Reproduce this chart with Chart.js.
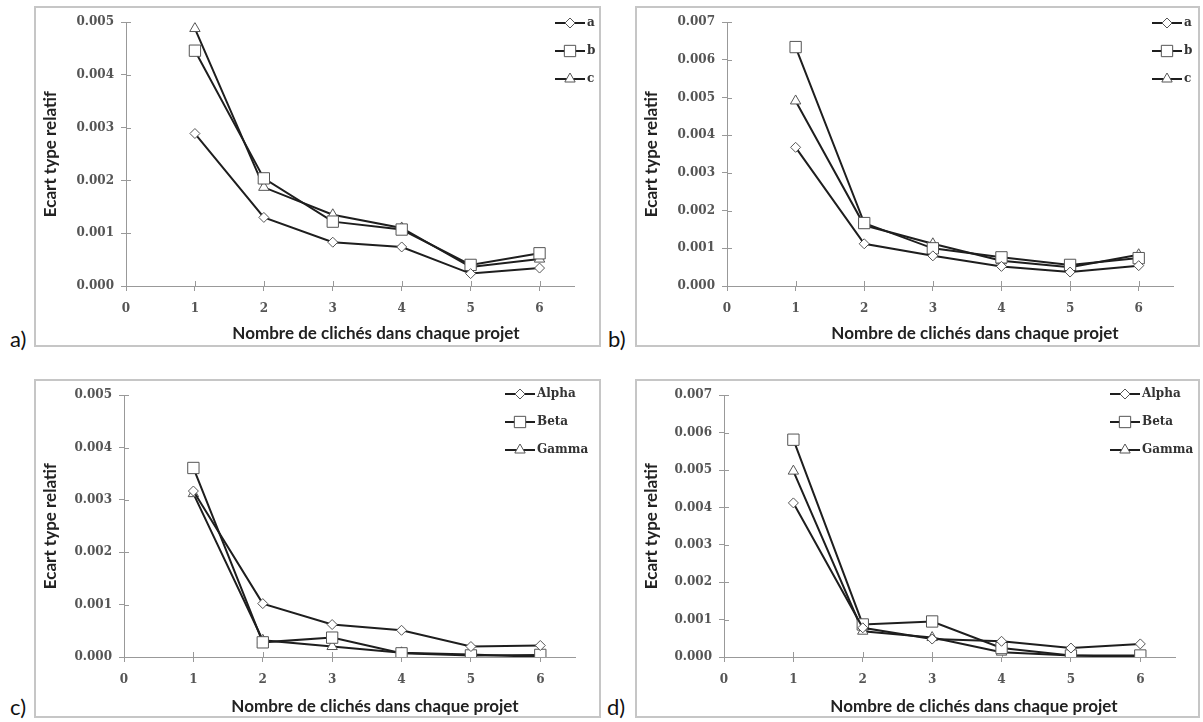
<!DOCTYPE html>
<html>
<head>
<meta charset="utf-8">
<title>Ecart type relatif</title>
<script src="https://cdn.jsdelivr.net/npm/chart.js"></script>
<style>
  body { margin: 0; background: #fff; width: 1203px; height: 722px; position: relative; overflow: hidden; }
  .panel { position: absolute; border: 2px solid #c6c6c6; background: #fff; }
  .panel canvas { display: block; }
  .tag { position: absolute; font-family: Lato, sans-serif; font-size: 22px; line-height: 22px; color: #111; }
  .xtitle { position: absolute; font-family: Lato, sans-serif; font-weight: bold; font-size: 17px;
            color: #222; transform: translateX(-50%); white-space: nowrap; }
</style>
</head>
<body>
  <div class="panel" style="left:34px;top:6px;width:563px;height:337px"><canvas id="chartA" width="563" height="337"></canvas></div>
  <div class="panel" style="left:635px;top:6px;width:561px;height:337px"><canvas id="chartB" width="561" height="337"></canvas></div>
  <div class="panel" style="left:34px;top:379px;width:563px;height:335px"><canvas id="chartC" width="563" height="335"></canvas></div>
  <div class="panel" style="left:635px;top:379px;width:561px;height:335px"><canvas id="chartD" width="561" height="335"></canvas></div>

  <div class="tag" style="left:10px;top:328px">a)</div>
  <div class="tag" style="left:608px;top:328px">b)</div>
  <div class="tag" style="left:10px;top:696px">c)</div>
  <div class="tag" style="left:607px;top:696px">d)</div>

  <div class="xtitle" style="left:376px;top:322px">Nombre de clichés dans chaque projet</div>
  <div class="xtitle" style="left:975px;top:322px">Nombre de clichés dans chaque projet</div>
  <div class="xtitle" style="left:375px;top:695px">Nombre de clichés dans chaque projet</div>
  <div class="xtitle" style="left:974px;top:695px">Nombre de clichés dans chaque projet</div>

<script>
// x = nombre de clichés
const nbClicheS = [1, 2, 3, 4, 5, 6];

// panneau a)
const panelA_a = [0.00289, 0.00130, 0.00083, 0.00074, 0.000235, 0.00034];
const panelA_b = [0.00446, 0.00204, 0.00122, 0.00107, 0.00040, 0.00062];
const panelA_c = [0.00488, 0.00187, 0.00135, 0.00110, 0.00036, 0.00051];

// panneau b)
const panelB_a = [0.00368, 0.00112, 0.00080, 0.00052, 0.00037, 0.00054];
const panelB_b = [0.00634, 0.00167, 0.00100, 0.00076, 0.00056, 0.00074];
const panelB_c = [0.00491, 0.00161, 0.00112, 0.00067, 0.00050, 0.00083];

// panneau c)
const panelC_alpha = [0.00317, 0.00102, 0.00062, 0.00051, 0.00020, 0.00022];
const panelC_beta  = [0.00361, 0.00028, 0.00037, 0.00007, 0.00003, 0.00004];
const panelC_gamma = [0.00312, 0.00032, 0.00020, 0.00008, 0.00005, 0.00000];

// panneau d)
const panelD_alpha = [0.00412, 0.00078, 0.00048, 0.00042, 0.00024, 0.00035];
const panelD_beta  = [0.00581, 0.00087, 0.00095, 0.00024, 0.00004, 0.00004];
const panelD_gamma = [0.00497, 0.00069, 0.00052, 0.00013, 0.00004, 0.00000];

const namesAB = ['a', 'b', 'c'];
const namesCD = ['Alpha', 'Beta', 'Gamma'];
const markers = ['rectRot', 'rect', 'triangle'];
const markerSize = [5, 8, 6];

const tickFont = { family: 'DejaVu Serif', size: 12, weight: 'bold' };

function drawMarker(ctx, style, r, x, y) {
  ctx.beginPath();
  if (style === 'rectRot') {
    ctx.moveTo(x, y - r); ctx.lineTo(x + r, y); ctx.lineTo(x, y + r); ctx.lineTo(x - r, y);
  } else if (style === 'rect') {
    const s = r * Math.SQRT1_2;
    ctx.rect(x - s, y - s, 2 * s, 2 * s);
  } else {
    const w = r * Math.sqrt(3) / 2;
    ctx.moveTo(x, y - r); ctx.lineTo(x + w, y + r / 2); ctx.lineTo(x - w, y + r / 2);
  }
  ctx.closePath();
  ctx.fill();
  ctx.stroke();
}

// petits traits de graduation croisés (style Excel)
const crossTicks = {
  id: 'crossTicks',
  beforeDatasetsDraw(chart) {
    const ctx = chart.ctx, xs = chart.scales.x, ys = chart.scales.y;
    const a = chart.chartArea;
    ctx.save();
    ctx.strokeStyle = '#999';
    ctx.lineWidth = 1;
    ctx.beginPath();
    ys.ticks.forEach(t => {
      const py = Math.round(ys.getPixelForValue(t.value)) + 0.5;
      ctx.moveTo(a.left, py); ctx.lineTo(a.left + 5, py);
    });
    xs.ticks.forEach(t => {
      const px = Math.round(xs.getPixelForValue(t.value)) + 0.5;
      ctx.moveTo(px, a.bottom); ctx.lineTo(px, a.bottom - 5);
    });
    ctx.stroke();
    ctx.restore();
  }
};

const sideLegend = {
  id: 'sideLegend',
  afterDraw(chart, args, opts) {
    const ctx = chart.ctx;
    ctx.save();
    chart.data.datasets.forEach((ds, i) => {
      const y = opts.y + i * opts.gap;
      ctx.strokeStyle = ds.borderColor;
      ctx.lineWidth = ds.borderWidth;
      ctx.beginPath();
      ctx.moveTo(opts.x, y); ctx.lineTo(opts.x + opts.len, y);
      ctx.stroke();
      ctx.fillStyle = '#fff';
      ctx.strokeStyle = '#555';
      ctx.lineWidth = 1;
      drawMarker(ctx, ds.pointStyle, ds.pointRadius, opts.x + opts.len / 2, y);
      ctx.fillStyle = '#333';
      ctx.font = 'bold 12px "DejaVu Serif"';
      ctx.textBaseline = 'middle';
      ctx.fillText(ds.label, opts.x + opts.len + 2, y);
    });
    ctx.restore();
  }
};

function makePanel(id, series, names, ymax, area, legend) {
  const canvas = document.getElementById(id);
  const W = canvas.width, H = canvas.height;
  const datasets = series.map((vals, i) => ({
    label: names[i],
    data: vals.map((v, k) => ({ x: nbClicheS[k], y: v })),
    showLine: true,
    borderColor: '#1e1e1e',
    borderWidth: 2,
    pointStyle: markers[i],
    pointRadius: markerSize[i],
    pointBackgroundColor: '#fff',
    pointBorderColor: '#555',
    pointBorderWidth: 1,
    tension: 0
  }));
  return new Chart(canvas, {
    type: 'scatter',
    data: { datasets },
    plugins: [crossTicks, sideLegend],
    options: {
      responsive: false,
      animation: false,
      layout: { padding: { left: 0, top: area.top, right: W - area.right, bottom: 0 } },
      plugins: {
        legend: { display: false },
        tooltip: { enabled: false },
        sideLegend: legend
      },
      scales: {
        x: {
          type: 'linear',
          min: 0,
          max: 6.5,
          afterBuildTicks: s => { s.ticks = s.ticks.filter(t => Number.isInteger(t.value)); },
          afterFit: s => { s.height = H - area.bottom; },
          ticks: { stepSize: 1, font: tickFont, color: '#555', padding: 11, maxRotation: 0 },
          grid: { drawOnChartArea: false, drawTicks: true, tickLength: 5, color: '#999' },
          border: { color: '#999', width: 1 }
        },
        y: {
          min: 0,
          max: ymax,
          afterFit: s => { s.width = area.left; },
          ticks: { stepSize: 0.001, font: tickFont, color: '#555', padding: 7, callback: v => v.toFixed(3) },
          grid: { drawOnChartArea: false, drawTicks: true, tickLength: 5, color: '#999' },
          border: { color: '#999', width: 1 },
          title: {
            display: true,
            text: 'Ecart type relatif',
            font: { family: 'Lato', size: 17, weight: 'bold' },
            color: '#222',
            padding: { top: 4, bottom: 0 }
          }
        }
      }
    }
  });
}

makePanel('chartA', [panelA_a, panelA_b, panelA_c], namesAB, 0.005,
  { left: 90, top: 8, right: 538, bottom: 278 }, { x: 519, y: 15, gap: 28, len: 30 });
makePanel('chartB', [panelB_a, panelB_b, panelB_c], namesAB, 0.007,
  { left: 90, top: 8, right: 536, bottom: 278 }, { x: 515, y: 15, gap: 28, len: 30 });
makePanel('chartC', [panelC_alpha, panelC_beta, panelC_gamma], namesCD, 0.005,
  { left: 88, top: 7, right: 539, bottom: 276 }, { x: 469, y: 13, gap: 28, len: 30 });
makePanel('chartD', [panelD_alpha, panelD_beta, panelD_gamma], namesCD, 0.007,
  { left: 87, top: 7, right: 538, bottom: 276 }, { x: 473, y: 13, gap: 28, len: 30 });
</script>
</body>
</html>
